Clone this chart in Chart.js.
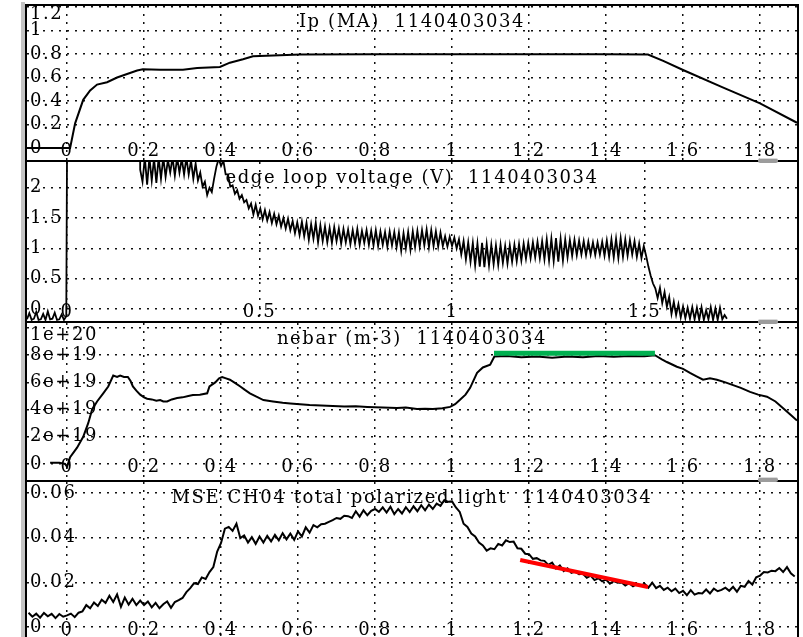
<!DOCTYPE html>
<html>
<head>
<meta charset="utf-8">
<script src="https://cdn.jsdelivr.net/npm/chart.js@4.4.1/dist/chart.umd.min.js"></script>
<style>
  html, body { margin: 0; padding: 0; background: #fff; overflow: hidden; width: 803px; height: 637px; }
  #edge { position: absolute; left: 21px; top: 2px; width: 4px; height: 640px; background: #c4c4c4; }
  #scope { position: absolute; left: 25px; top: 4px; width: 774px; height: 640px; background: #000; }
  #scope canvas { position: absolute; left: 2px; background: #fff; }
  .grip { position: absolute; left: 758px; width: 20px; height: 4px; background: #9c9c9c; border-top: 1px solid #dadada; border-radius: 2px; }
</style>
</head>
<body>
<div id="edge"></div>
<div id="scope">
  <canvas id="ip" width="770" height="154" style="top:2px"></canvas>
  <canvas id="vloop" width="770" height="159" style="top:158px"></canvas>
  <canvas id="nebar" width="770" height="157" style="top:319px"></canvas>
  <canvas id="mse" width="770" height="155" style="top:478px"></canvas>
</div>
<div class="grip" style="top:158px"></div>
<div class="grip" style="top:319px"></div>
<div class="grip" style="top:477px"></div>
<script>
const SHOT = "1140403034";
const X_MIN = -0.104, X_MAX = 1.896;

// tick labels
const timeTicks = [0, 0.2, 0.4, 0.6, 0.8, 1, 1.2, 1.4, 1.6, 1.8];
const vloopTimeTicks = [0, 0.5, 1, 1.5];
const ipTicks = [0, 0.2, 0.4, 0.6, 0.8, 1, 1.2];
const vloopTicks = [0, 0.5, 1, 1.5, 2];
const nebarTicks = [0, 2e19, 4e19, 6e19, 8e19, 1e20];
const mseTicks = [0, 0.02, 0.04, 0.06];

// Ip (MA)
const ipTime = [-0.104, 0.008, 0.021, 0.042, 0.060, 0.078, 0.104, 0.130, 0.156, 0.182, 0.197, 0.242, 0.301, 0.338, 0.397, 0.423, 0.457, 0.483, 0.553, 0.605, 0.80, 1.00, 1.20, 1.40, 1.509, 1.55, 1.60, 1.70, 1.80, 1.896];
const ipMA = [0, 0, 0.21, 0.41, 0.49, 0.54, 0.56, 0.60, 0.63, 0.66, 0.67, 0.665, 0.665, 0.68, 0.69, 0.726, 0.755, 0.78, 0.79, 0.795, 0.797, 0.797, 0.797, 0.797, 0.795, 0.74, 0.664, 0.52, 0.38, 0.215];

// edge loop voltage (V): pre-trigger + breakdown (off scale), then the ripple record
const vloopPreTime = [-0.104, -0.098, -0.092, -0.086, -0.080, -0.074, -0.068, -0.062, -0.056, -0.050, -0.044, -0.038, -0.032, -0.026, -0.020, -0.014, -0.008, -0.002, 0.001, 0.189];
const vloopPre = [-0.17, -0.07, -0.18, -0.16, -0.05, -0.18, -0.17, -0.08, -0.18, -0.04, -0.17, -0.16, -0.06, -0.18, -0.17, -0.09, -0.18, -0.12, 4.0, 4.0];
const vloopStart = 0.19, vloopStep = 0.006;
const vloop = [
  2.30, 2.10, 2.50, 2.05, 2.50, 2.12, 2.48, 2.08, 2.50, 2.15,
  2.50, 2.18, 2.46, 2.25, 2.50, 2.20, 2.50, 2.25, 2.48, 2.22,
  2.50, 2.22, 2.45, 2.15, 2.40, 2.12, 2.25, 2.02, 2.10, 1.88,
  2.00, 1.93, 2.15, 2.35, 2.48, 2.36, 2.45, 2.22, 2.22, 2.02,
  2.04, 1.90, 1.96, 1.82, 1.88, 1.76, 1.80, 1.66, 1.74, 1.56,
  1.72, 1.54, 1.66, 1.48, 1.63, 1.46, 1.60, 1.42, 1.57, 1.40,
  1.54, 1.36, 1.50, 1.33, 1.49, 1.30, 1.45, 1.25, 1.43, 1.22,
  1.44, 1.20, 1.42, 1.14, 1.40, 1.16, 1.42, 1.10, 1.38, 1.12,
  1.36, 1.10, 1.34, 1.09, 1.35, 1.12, 1.33, 1.08, 1.32, 1.10,
  1.31, 1.07, 1.30, 1.08, 1.32, 1.06, 1.29, 1.09, 1.30, 1.06,
  1.29, 1.05, 1.30, 1.04, 1.28, 1.06, 1.27, 1.03, 1.28, 1.05,
  1.27, 1.02, 1.26, 0.96, 1.25, 1.00, 1.27, 0.98, 1.28, 1.02,
  1.29, 1.03, 1.30, 1.05, 1.31, 1.02, 1.30, 1.04, 1.28, 1.03,
  1.26, 1.04, 1.20, 1.03, 1.19, 1.04, 1.18, 1.00, 1.15, 0.90,
  1.12, 0.82, 1.10, 0.78, 1.09, 0.72, 1.08, 0.70, 1.09, 0.69,
  1.07, 0.72, 1.06, 0.74, 1.05, 0.73, 1.06, 0.76, 1.04, 0.75,
  1.05, 0.78, 1.06, 0.79, 1.07, 0.80, 1.08, 0.83, 1.09, 0.84,
  1.10, 0.85, 1.11, 0.84, 1.12, 0.82, 1.15, 0.80, 1.16, 0.79,
  1.17, 0.78, 1.16, 0.80, 1.15, 0.85, 1.14, 0.88, 1.14, 0.89,
  1.13, 0.90, 1.12, 0.89, 1.11, 0.90, 1.10, 0.89, 1.10, 0.90,
  1.11, 0.88, 1.13, 0.86, 1.15, 0.85, 1.16, 0.84, 1.17, 0.86,
  1.15, 0.88, 1.14, 0.90, 1.12, 0.86, 1.08, 0.84, 1.04, 0.88,
  0.70, 0.55, 0.42, 0.34, 0.18, 0.35, 0.10, 0.28, 0.04, 0.20,
  -0.08, 0.12, -0.10, 0.08, -0.14, 0.04, -0.15, 0.02, -0.16, 0.03,
  -0.17, 0.02, -0.18, 0.03, -0.18, -0.02, -0.17, 0.03, -0.18, 0.01,
  -0.18, 0.02, -0.17, -0.10, -0.16
];

// nebar (m-3), stored in units of 1e19
const nebarTime = [-0.044, -0.02, -0.005, 0.0, 0.008, 0.026, 0.042, 0.055, 0.065, 0.078, 0.094, 0.107, 0.12, 0.13, 0.138, 0.148, 0.158, 0.165, 0.171, 0.18, 0.19, 0.2, 0.208, 0.22, 0.232, 0.242, 0.25, 0.26, 0.272, 0.286, 0.3, 0.315, 0.327, 0.345, 0.364, 0.37, 0.385, 0.395, 0.403, 0.413, 0.423, 0.437, 0.45, 0.462, 0.475, 0.492, 0.51, 0.535, 0.56, 0.58, 0.605, 0.63, 0.66, 0.69, 0.72, 0.75, 0.78, 0.82, 0.857, 0.88, 0.909, 0.93, 0.95, 0.975, 0.995, 1.008, 1.02, 1.035, 1.047, 1.055, 1.065, 1.08, 1.099, 1.11, 1.143, 1.18, 1.22, 1.26, 1.3, 1.34, 1.38, 1.42, 1.46, 1.5, 1.527, 1.545, 1.558, 1.584, 1.6, 1.618, 1.635, 1.652, 1.67, 1.688, 1.71, 1.73, 1.75, 1.774, 1.795, 1.818, 1.84, 1.86, 1.88, 1.896];
const nebar19 = [0.1, 0.1, 0.0, -0.2, 0.5, 1.2, 2.0, 3.0, 4.0, 4.6, 5.2, 5.7, 6.5, 6.4, 6.5, 6.4, 6.4, 6.1, 5.7, 5.4, 5.1, 4.9, 4.8, 4.75, 4.65, 4.7, 4.6, 4.6, 4.75, 4.85, 4.9, 5.0, 5.07, 5.1, 5.2, 5.7, 6.0, 6.3, 6.4, 6.3, 6.2, 5.95, 5.7, 5.45, 5.2, 4.95, 4.7, 4.6, 4.5, 4.45, 4.4, 4.33, 4.3, 4.26, 4.22, 4.25, 4.2, 4.15, 4.12, 4.15, 4.05, 4.06, 4.04, 4.1, 4.2, 4.4, 4.7, 5.1, 5.6, 6.1, 6.7, 7.1, 7.3, 7.9, 7.94, 7.85, 7.9, 7.82, 7.9, 7.85, 7.95, 7.88, 7.95, 7.92, 8.0, 7.7, 7.5, 7.15, 7.0, 6.7, 6.45, 6.2, 6.3, 6.2, 6.0, 5.8, 5.6, 5.3, 5.1, 4.95, 4.6, 4.1, 3.6, 3.2];
const flatTopTime = [1.109, 1.527];
const flatTop = [8.14e19, 8.14e19];

// MSE CH04 total polarized light
const mseStart = -0.10, mseStep = 0.01;
const mse = [
  0.0064, 0.0046, 0.0060, 0.0042, 0.0063, 0.0048, 0.0059, 0.0040, 0.0058, 0.0046,
  0.0052, 0.0060, 0.0044, 0.0064, 0.0070, 0.0098, 0.0084, 0.0110, 0.0094, 0.0122,
  0.0108, 0.0140, 0.0112, 0.0146, 0.0090, 0.0132, 0.0100, 0.0126, 0.0098, 0.0118,
  0.0098, 0.0114, 0.0088, 0.0108, 0.0084, 0.0102, 0.0114, 0.0086, 0.0112, 0.0120,
  0.0130, 0.0156, 0.0174, 0.0196, 0.0192, 0.0222, 0.0215, 0.0246, 0.0268, 0.0338,
  0.0376, 0.0440, 0.0448, 0.0430, 0.0462, 0.0398, 0.0410, 0.0378, 0.0402, 0.0372,
  0.0405, 0.0378, 0.0408, 0.0383, 0.0412, 0.0388, 0.0420, 0.0392, 0.0418, 0.0390,
  0.0428, 0.0405, 0.0446, 0.0422, 0.0456, 0.0446, 0.0460, 0.0462, 0.0470, 0.0478,
  0.0488, 0.0484, 0.0498, 0.0496, 0.0488, 0.0518, 0.0494, 0.0522, 0.0500, 0.0520,
  0.0528, 0.0515, 0.0535, 0.0512, 0.0538, 0.0505, 0.0528, 0.0508, 0.0536, 0.0514,
  0.0540, 0.0518, 0.0545, 0.0522, 0.0548, 0.0528, 0.0552, 0.0542, 0.0568, 0.0560,
  0.0562, 0.0535, 0.0515, 0.0462, 0.0448, 0.0418, 0.0405, 0.0378, 0.0365, 0.0342,
  0.0352, 0.0348, 0.0372, 0.0365, 0.0388, 0.0380, 0.0382, 0.0352, 0.0350, 0.0328,
  0.0326, 0.0305, 0.0308, 0.0298, 0.0296, 0.0278, 0.0288, 0.0262, 0.0275, 0.0250,
  0.0262, 0.0242, 0.0248, 0.0236, 0.0238, 0.0220, 0.0230, 0.0210, 0.0218, 0.0204,
  0.0212, 0.0194, 0.0205, 0.0198, 0.0200, 0.0186, 0.0196, 0.0182, 0.0192, 0.0184,
  0.0194, 0.0176, 0.0198, 0.0174, 0.0184, 0.0166, 0.0176, 0.0160, 0.0172, 0.0152,
  0.0162, 0.0142, 0.0165, 0.0145, 0.0152, 0.0150, 0.0168, 0.0150, 0.0172, 0.0160,
  0.0166, 0.0176, 0.0162, 0.0180, 0.0158, 0.0184, 0.0180, 0.0206, 0.0190, 0.0222,
  0.0230, 0.0246, 0.0244, 0.0252, 0.0250, 0.0264, 0.0246, 0.0268, 0.0240, 0.0226
];
const decayTime = [1.177, 1.509];
const decay = [0.030, 0.0179];

const FONT = { family: 'DejaVu Serif', size: 18, lineHeight: 0.8 };
const LETTER_GAP = '1.6px';

const pairs = (t, v, k = 1) => t.map((x, i) => ({ x, y: v[i] * k }));
const sampled = (t0, dt, v) => v.map((y, i) => ({ x: +(t0 + i * dt).toFixed(4), y }));
const trace = (data, color = '#000', width = 2) => ({ data, borderColor: color, borderWidth: width, pointRadius: 0, tension: 0, fill: false });

// title is drawn inside the plot, the way the scope does it
const panelTitle = {
  id: 'panelTitle',
  beforeDraw(chart) { chart.ctx.letterSpacing = LETTER_GAP; },
  beforeDatasetsDraw(chart, args, opts) {
    const { ctx, chartArea: a } = chart;
    ctx.save();
    ctx.font = FONT.size + 'px "' + FONT.family + '"';
    ctx.fillStyle = '#000'; ctx.textAlign = 'center'; ctx.textBaseline = 'alphabetic';
    ctx.fillText(opts.text, (a.left + a.right) / 2, a.top + 21);
    ctx.restore();
  }
};

const gridStyle = { color: '#111', lineWidth: 1.5, drawTicks: false };
const dotted = { display: false, dash: [2, 6] };

function xAxis(ticks) {
  return {
    type: 'linear', min: X_MIN, max: X_MAX, position: { y: 0 },
    grid: gridStyle, border: dotted,
    ticks: { autoSkip: false, maxRotation: 0, padding: -4, color: '#000', font: FONT, callback: v => String(v) },
    afterBuildTicks: s => { s.ticks = ticks.map(value => ({ value })); },
    afterFit: s => { s.paddingLeft = 0; s.paddingRight = 0; }
  };
}

function yAxis(min, max, ticks, fmt, lift) {
  return {
    type: 'linear', min, max, position: 'left',
    grid: gridStyle, border: dotted,
    ticks: {
      autoSkip: false, mirror: true, padding: 3, color: '#000', font: FONT,
      callback: (v, i, all) => { const s = fmt ? fmt(v) : String(v); return lift && i === all.length - 1 ? ['', s] : s; }
    },
    afterBuildTicks: s => { s.ticks = ticks.map(value => ({ value })); },
    afterFit: s => { s.width = 0; s.paddingTop = 0; s.paddingBottom = 0; }
  };
}

function scope(id, title, x, y, datasets) {
  return new Chart(document.getElementById(id), {
    type: 'line',
    data: { datasets },
    options: {
      responsive: false, animation: false, events: [], devicePixelRatio: 1,
      layout: { padding: 0 },
      plugins: { legend: { display: false }, tooltip: { enabled: false }, panelTitle: { text: title } },
      scales: { x, y }
    },
    plugins: [panelTitle]
  });
}

const sci = v => v === 0 ? '0' : Number(v.toPrecision(6)).toExponential();

scope('ip', 'Ip (MA)  ' + SHOT, xAxis(timeTicks), yAxis(-0.1021, 1.2085, ipTicks, null, true),
  [trace(pairs(ipTime, ipMA))]);

scope('vloop', 'edge loop voltage (V)  ' + SHOT, xAxis(vloopTimeTicks), yAxis(-0.198, 2.4257, vloopTicks, null, false),
  [trace(pairs(vloopPreTime, vloopPre).concat(sampled(vloopStart, vloopStep, vloop)), '#000', 1.8)]);

scope('nebar', 'nebar (m-3)  ' + SHOT, xAxis(timeTicks), yAxis(-1.176e19, 1.0368e20, nebarTicks, sci, true),
  [trace(pairs(flatTopTime, flatTop), '#00b050', 5), trace(pairs(nebarTime, nebar19, 1e19))]);

scope('mse', 'MSE CH04 total polarized light  ' + SHOT, xAxis(timeTicks), yAxis(-0.00447, 0.06488, mseTicks, null, false),
  [trace(pairs(decayTime, decay), '#ff0000', 4), trace(sampled(mseStart, mseStep, mse), '#000', 2)]);
</script>
</body>
</html>
